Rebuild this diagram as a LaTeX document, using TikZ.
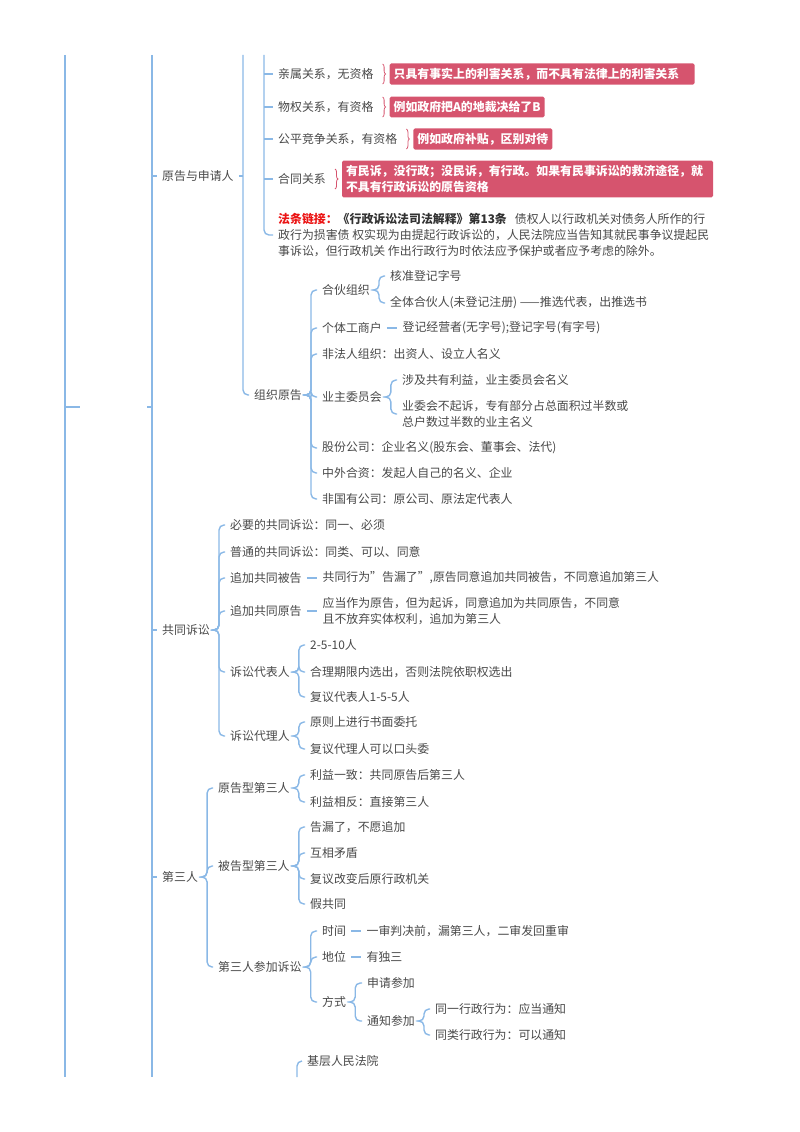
\documentclass[tikz,border=0pt]{standalone}
\usepackage{fontspec}
\setmainfont{Noto Sans CJK SC}
\usepackage{xcolor}
\usetikzlibrary{positioning,decorations.pathreplacing}
\definecolor{mmblue}{RGB}{138,184,230}
\definecolor{mmtext}{RGB}{72,72,72}
\definecolor{mmdark}{RGB}{50,50,50}
\definecolor{hintred}{RGB}{214,84,110}
\definecolor{lawred}{RGB}{235,20,20}
\newcommand\mmfont{\fontsize{11.9pt}{16pt}\selectfont}

\begin{document}
\begin{tikzpicture}[x=1pt,y=-1pt,
    lnk/.style={draw=mmblue, line width=1.4pt, rounded corners=5pt},
    itm/.style={anchor=west, inner xsep=5pt, inner ysep=1pt, font=\mmfont,
                text=mmtext, align=left},
    hint/.style={fill=hintred, text=white, font=\mmfont\bfseries,
                 rounded corners=1.5pt, inner xsep=4pt, inner ysep=4.5pt, align=left},
    brc/.style={draw=hintred, line width=0.8pt, decorate,
                decoration={brace, amplitude=3pt}}
  ]
  \useasboundingbox (0,0) rectangle (800,1132);

  % lines from the page above
  \coordinate (r0) at (65,55);  \coordinate (r0b) at (65,1077);
  \coordinate (r1) at (152,55); \coordinate (r1b) at (152,1077);
  \coordinate (r2) at (243,55);
  \coordinate (r3) at (264,55);
  \coordinate (k0) at (80,407);
  \coordinate (k1) at (147,407);
  \draw[lnk] (r0) -- (r0b);
  \draw[lnk] (r1) -- (r1b);
  \draw[lnk] (k0 -| r0) -- (k0);
  \draw[lnk] (k1) -- (k1 -| r1);

  % 原告与申请人
  \node[itm] (yg) at (157,176) {原告与申请人};
  \draw[lnk] (yg.west -| r1) -- (yg.west);
  \draw[lnk] (yg.east) -- (yg.east -| r2);

  \node[itm] (q1) at (273,74) {亲属关系，无资格};
  \node[itm] (q2) at (273,107) {物权关系，有资格};
  \node[itm] (q3) at (273,139) {公平竞争关系，有资格};
  \node[itm] (q4) at (273,179) {合同关系};
  \node[itm] (fl) at (273,235) {{\bfseries\color{lawred}法条链接：}{\bfseries\color{mmdark}《行政诉讼法司法解释》第13条}\hspace{8pt}债权人以行政机关对债务人所作的行\\
    政行为损害债 权实现为由提起行政诉讼的，人民法院应当告知其就民事争议提起民\\
    事诉讼，但行政机关 作出行政行为时依法应予保护或者应予考虑的除外。};
  \draw[lnk] (q1.west -| r3) -- (q1.west);
  \draw[lnk] (q2.west -| r3) -- (q2.west);
  \draw[lnk] (q3.west -| r3) -- (q3.west);
  \draw[lnk] (q4.west -| r3) -- (q4.west);
  \draw[lnk] (r3) |- (fl.west);

  \node[hint, right=10.8pt of q1, text width=297pt] (h1) {只具有事实上的利害关系，而不具有法律上的利害关系};
  \node[hint, right=10.8pt of q2] (h2) {例如政府把A的地裁决给了B};
  \node[hint, right=10.8pt of q3] (h3) {例如政府补贴，区别对待};
  \node[hint, right=10.8pt of q4, text width=363pt] (h4) {有民诉，没行政；没民诉，有行政。如果有民事诉讼的救济途径，就\\不具有行政诉讼的原告资格};
  \draw[brc] ([xshift=4pt,yshift=10pt]q1.east) -- ([xshift=4pt,yshift=-10pt]q1.east);
  \draw[brc] ([xshift=4pt,yshift=10pt]q2.east) -- ([xshift=4pt,yshift=-10pt]q2.east);
  \draw[brc] ([xshift=4pt,yshift=10pt]q3.east) -- ([xshift=4pt,yshift=-10pt]q3.east);
  \draw[brc] ([xshift=4pt,yshift=10pt]q4.east) -- ([xshift=4pt,yshift=-10pt]q4.east);

  % 组织原告
  \node[itm] (zz) at (249,395) {组织原告};
  \draw[lnk] (r2) |- (zz.west);
  \node[itm] (hb) at (317,290) {合伙组织};
  \node[itm] (gt) at (317,328) {个体工商户};
  \node[itm] (ff) at (317,354) {非法人组织：出资人、设立人名义};
  \node[itm] (yz) at (317,397) {业主委员会};
  \node[itm] (gf) at (317,448) {股份公司：企业名义(股东会、董事会、法代)};
  \node[itm] (zw) at (317,473) {中外合资：发起人自己的名义、企业};
  \node[itm] (fg) at (317,499) {非国有公司：原公司、原法定代表人};
  \draw[lnk] (zz.east) -- ++(4,0) |- (hb.west);
  \draw[lnk] (zz.east) -- ++(4,0) |- (gt.west);
  \draw[lnk] (zz.east) -- ++(4,0) |- (ff.west);
  \draw[lnk] (zz.east) -- ++(4,0) |- (yz.west);
  \draw[lnk] (zz.east) -- ++(4,0) |- (gf.west);
  \draw[lnk] (zz.east) -- ++(4,0) |- (zw.west);
  \draw[lnk] (zz.east) -- ++(4,0) |- (fg.west);

  \node[itm] (hb1) at (385,276) {核准登记字号};
  \node[itm] (hb2) at (385,303) {全体合伙人(未登记注册) ——推选代表，出推选书};
  \draw[lnk] (hb.east) -- ++(4,0) |- (hb1.west);
  \draw[lnk] (hb.east) -- ++(4,0) |- (hb2.west);
  \node[itm, right=10.5pt of gt] (gt1) {登记经营者(无字号);登记字号(有字号)};
  \draw[lnk] (gt.east) -- (gt1.west);
  \node[itm] (yz1) at (397,380) {涉及共有利益，业主委员会名义};
  \node[itm] (yz2) at (397,414) {业委会不起诉，专有部分占总面积过半数或\\总户数过半数的业主名义};
  \draw[lnk] (yz.east) -- ++(4,0) |- (yz1.west);
  \draw[lnk] (yz.east) -- ++(4,0) |- (yz2.west);

  % 共同诉讼
  \node[itm] (gs) at (157,630) {共同诉讼};
  \draw[lnk] (gs.west -| r1) -- (gs.west);
  \node[itm] (g1) at (225,525) {必要的共同诉讼：同一、必须};
  \node[itm] (g2) at (225,552) {普通的共同诉讼：同类、可以、同意};
  \node[itm] (g3) at (225,578) {追加共同被告};
  \node[itm] (g4) at (225,611) {追加共同原告};
  \node[itm] (g5) at (225,672) {诉讼代表人};
  \node[itm] (g6) at (225,736) {诉讼代理人};
  \draw[lnk] (gs.east) -- ++(4,0) |- (g1.west);
  \draw[lnk] (gs.east) -- ++(4,0) |- (g2.west);
  \draw[lnk] (gs.east) -- ++(4,0) |- (g3.west);
  \draw[lnk] (gs.east) -- ++(4,0) |- (g4.west);
  \draw[lnk] (gs.east) -- ++(4,0) |- (g5.west);
  \draw[lnk] (gs.east) -- ++(4,0) |- (g6.west);

  \node[itm, right=10.6pt of g3] (g3a) {共同行为"告漏了",原告同意追加共同被告，不同意追加第三人};
  \draw[lnk] (g3.east) -- (g3a.west);
  \node[itm, right=10.6pt of g4] (g4a) {应当作为原告，但为起诉，同意追加为共同原告，不同意\\且不放弃实体权利，追加为第三人};
  \draw[lnk] (g4.east) -- (g4a.west);
  \node[itm] (g5a) at (305,645) {2-5-10人};
  \node[itm] (g5b) at (305,672) {合理期限内选出，否则法院依职权选出};
  \node[itm] (g5c) at (305,697) {复议代表人1-5-5人};
  \draw[lnk] (g5.east) -- ++(4,0) |- (g5a.west);
  \draw[lnk] (g5.east) -- ++(4,0) |- (g5b.west);
  \draw[lnk] (g5.east) -- ++(4,0) |- (g5c.west);
  \node[itm] (g6a) at (305,722) {原则上进行书面委托};
  \node[itm] (g6b) at (305,749) {复议代理人可以口头委};
  \draw[lnk] (g6.east) -- ++(4,0) |- (g6a.west);
  \draw[lnk] (g6.east) -- ++(4,0) |- (g6b.west);

  % 第三人
  \node[itm] (ds) at (157,877) {第三人};
  \draw[lnk] (ds.west -| r1) -- (ds.west);
  \node[itm] (d1) at (213,788) {原告型第三人};
  \node[itm] (d2) at (213,866) {被告型第三人};
  \node[itm] (d3) at (213,967) {第三人参加诉讼};
  \draw[lnk] (ds.east) -- ++(4,0) |- (d1.west);
  \draw[lnk] (ds.east) -- ++(4,0) |- (d2.west);
  \draw[lnk] (ds.east) -- ++(4,0) |- (d3.west);

  \node[itm] (d1a) at (305,775) {利益一致：共同原告后第三人};
  \node[itm] (d1b) at (305,802) {利益相反：直接第三人};
  \draw[lnk] (d1.east) -- ++(4,0) |- (d1a.west);
  \draw[lnk] (d1.east) -- ++(4,0) |- (d1b.west);
  \node[itm] (d2a) at (305,827) {告漏了，不愿追加};
  \node[itm] (d2b) at (305,853) {互相矛盾};
  \node[itm] (d2c) at (305,879) {复议改变后原行政机关};
  \node[itm] (d2d) at (305,904) {假共同};
  \draw[lnk] (d2.east) -- ++(4,0) |- (d2a.west);
  \draw[lnk] (d2.east) -- ++(4,0) |- (d2b.west);
  \draw[lnk] (d2.east) -- ++(4,0) |- (d2c.west);
  \draw[lnk] (d2.east) -- ++(4,0) |- (d2d.west);

  \node[itm] (t1) at (317,931) {时间};
  \node[itm] (t2) at (317,957) {地位};
  \node[itm] (t3) at (317,1002) {方式};
  \draw[lnk] (d3.east) -- ++(4,0) |- (t1.west);
  \draw[lnk] (d3.east) -- ++(4,0) |- (t2.west);
  \draw[lnk] (d3.east) -- ++(4,0) |- (t3.west);
  \node[itm, right=10.2pt of t1] (t1a) {一审判决前，漏第三人，二审发回重审};
  \draw[lnk] (t1.east) -- (t1a.west);
  \node[itm, right=10.2pt of t2] (t2a) {有独三};
  \draw[lnk] (t2.east) -- (t2a.west);
  \node[itm] (m1) at (362,983) {申请参加};
  \node[itm] (m2) at (362,1021) {通知参加};
  \draw[lnk] (t3.east) -- ++(4,0) |- (m1.west);
  \draw[lnk] (t3.east) -- ++(4,0) |- (m2.west);
  \node[itm] (n1) at (430,1009) {同一行政行为：应当通知};
  \node[itm] (n2) at (430,1035) {同类行政行为：可以通知};
  \draw[lnk] (m2.east) -- ++(4,0) |- (n1.west);
  \draw[lnk] (m2.east) -- ++(4,0) |- (n2.west);

  % 下一组
  \coordinate (r6) at (297,1077);
  \node[itm] (jc) at (302,1061) {基层人民法院};
  \draw[lnk] (r6) |- (jc.west);
\end{tikzpicture}
\end{document}
